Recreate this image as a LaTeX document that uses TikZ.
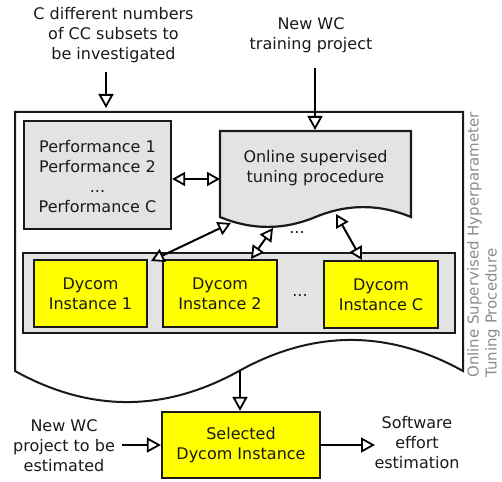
\documentclass[tikz,border=0pt]{standalone}
\usepackage{fontspec}
\setmainfont{DejaVu Sans}
\usetikzlibrary{arrows.meta}
\definecolor{boxgrey}{HTML}{E3E3E3}
\definecolor{dyyellow}{HTML}{FFFF00}
\definecolor{edge}{HTML}{1A1A1A}
\definecolor{labgrey}{HTML}{8C8C8C}
\tikzset{
  txt/.style={align=center,font=\fontsize{16}{20}\selectfont,inner sep=0pt,text=edge},
  greybox/.style={draw=edge,line width=2.2pt,fill=boxgrey,inner sep=0pt},
  dybox/.style={draw=edge,line width=2.2pt,fill=dyyellow,align=center,font=\fontsize{16}{20}\selectfont,inner sep=0pt,text=edge},
  arr/.style={line width=2pt,draw=black,-{Triangle[length=14pt,width=15pt,line width=1.8pt,fill=white]}},
  darr/.style={line width=2pt,draw=black,{Triangle[length=13pt,width=14pt,line width=1.8pt,fill=white]}-{Triangle[length=13pt,width=14pt,line width=1.8pt,fill=white]}},
}
\begin{document}
\begin{tikzpicture}[x=1pt,y=-1pt]
\useasboundingbox[fill=white] (0,0) rectangle (502,481);
% outer document shape
\draw[edge,line width=2pt,fill=white] (15,112) -- (463,112) -- (463,371)
  .. controls (388.33,329.6) and (313.67,329.6) .. (239,371)
  .. controls (164.33,412.4) and (89.67,412.4) .. (15,371) -- cycle;
\coordinate (outtop1) at (106,108);
\coordinate (outbot) at (240,371);
\node[txt,font=\fontsize{15}{18}\selectfont,rotate=90,anchor=north west,align=left,text=labgrey] (outlab) at (467,378)
  {Online Supervised Hyperparameter\\Tuning Procedure};
% performance box
\node[greybox,minimum width=147pt,minimum height=108pt] (perf) at (97.5,175) {};
\node[txt] (perftxt) at (97.5,177) {Performance 1\\Performance 2\\...\\Performance C};
% online tuning document
\draw[edge,line width=2.2pt,fill=boxgrey] (220,131) -- (411,131) -- (411,217)
  .. controls (379.17,203.8) and (347.33,203.8) .. (315.5,217)
  .. controls (283.67,230.2) and (251.83,230.2) .. (220,217) -- cycle;
\node[txt] (onltxt) at (315.5,168) {Online supervised\\tuning procedure};
\coordinate (onlL) at (220,179);
\coordinate (onlT) at (315,130);
\coordinate (onlB1) at (231,223);
\coordinate (onlB2) at (273,228);
\coordinate (onlBC) at (336,214);
% container
\node[greybox,minimum width=432pt,minimum height=80pt] (cont) at (239,293) {};
\node[dybox,minimum width=113pt,minimum height=67pt] (i1) at (90.5,293.5) {Dycom\\Instance 1};
\node[dybox,minimum width=114pt,minimum height=67pt] (i2) at (220,293.5) {Dycom\\Instance 2};
\node[dybox,minimum width=114pt,minimum height=67pt] (ic) at (381,294.5) {Dycom\\Instance C};
\node[txt] (dots1) at (300,296) {...};
\node[txt] (dots2) at (297,233) {...};
\coordinate (i1t) at (151,261);
\coordinate (i2t) at (251,259);
\coordinate (ict) at (362,260);
% selected
\node[dybox,minimum width=158pt,minimum height=66pt] (sel) at (241,445) {Selected\\Dycom Instance};
% labels
\node[txt] (lab1) at (113.5,35) {C different numbers\\of CC subsets to\\be investigated};
\node[txt] (lab2) at (311,35) {New WC\\training project};
\node[txt] (lab3) at (64,446) {New WC\\project to be\\estimated};
\node[txt] (lab4) at (417,443) {Software\\effort\\estimation};
\coordinate (a1s) at (106,72);
\coordinate (a2s) at (315,68);
\coordinate (a3s) at (122,445);
\coordinate (a4e) at (375,445);
% arrows
\draw[arr] (a1s) -- (outtop1);
\draw[arr] (a2s) -- (onlT);
\draw[darr] (perf.east |- onlL) -- (onlL);
\draw[darr] (i1t) -- (onlB1);
\draw[darr] (i2t) -- (onlB2);
\draw[darr] (ict) -- (onlBC);
\draw[arr] (outbot) -- (sel.north -| outbot);
\draw[arr] (a3s) -- (sel.west |- a3s);
\draw[arr] (sel.east |- a4e) -- (a4e);
\end{tikzpicture}
\end{document}
